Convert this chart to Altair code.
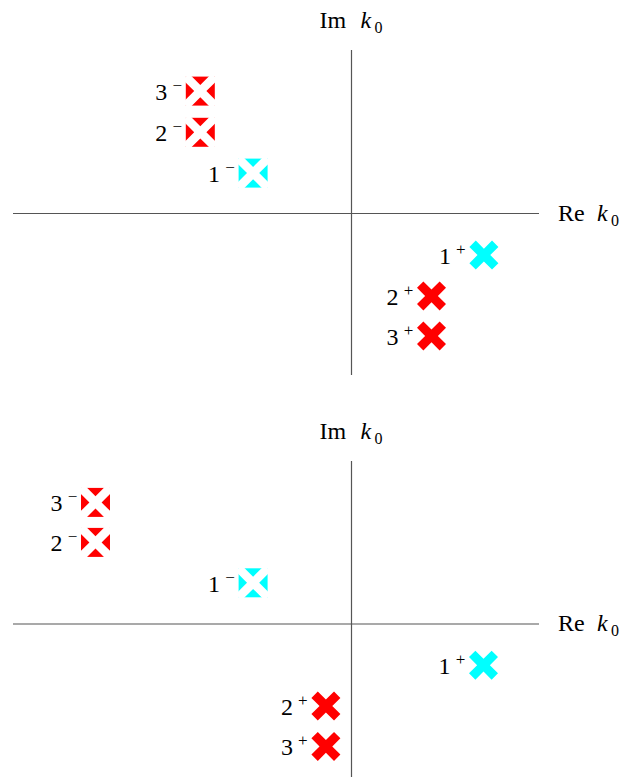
import altair as alt
import pandas as pd

# Poles in the complex k0 plane (units: Re k0, Im k0)
pole_num = ["1", "2", "3", "1", "2", "3"]
pole_sign = ["+", "+", "+", "−", "−", "−"]
pole_color = ["#00FFFF", "#FF0000", "#FF0000", "#00FFFF", "#FF0000", "#FF0000"]

top_re = [3.31, 2.0, 2.0, -2.46, -3.78, -3.78]
top_im = [-1.04, -2.06, -3.06, 1.01, 2.03, 3.06]
bot_re = [3.3, -0.64, -0.64, -2.46, -6.4, -6.4]
bot_im = [-1.03, -2.05, -3.06, 1.03, 2.04, 3.04]

# Plot ranges and axis-line extents
x_domain = [-8.5875, 6.7625]
top_y_domain = [-4.6625, 5.0875]
bot_y_domain = [-3.825, 5.6]
h_axis = [-8.4625, 4.6875]
top_v_axis = [-4.0375, 4.0875]
bot_v_axis = [-3.825, 4.075]

FONT = "Liberation Serif"
X_SHAPE = "M0.44,0L1,0.56L0.56,1L0,0.44L-0.56,1L-1,0.56L-0.44,0L-1,-0.56L-0.56,-1L0,-0.44L0.56,-1L1,-0.56Z"
WHITE_X = "M0.42,0L1.21,0.79L0.79,1.21L0,0.42L-0.79,1.21L-1.21,0.79L-0.42,0L-1.21,-0.79L-0.79,-1.21L0,-0.42L0.79,-1.21L1.21,-0.79Z"


def panel(re, im, ydom, vaxis, height):
    xs = alt.Scale(domain=x_domain, nice=False, zero=False)
    ys = alt.Scale(domain=ydom, nice=False, zero=False)
    df = pd.DataFrame({"re": re, "im": im, "num": pole_num,
                       "sign": pole_sign, "color": pole_color})
    base = alt.Chart(df).encode(
        x=alt.X("re:Q", scale=xs, axis=None),
        y=alt.Y("im:Q", scale=ys, axis=None),
    )
    axes_df = pd.DataFrame({"x1": [h_axis[0], 0], "x2": [h_axis[1], 0],
                            "y1": [0, vaxis[0]], "y2": [0, vaxis[1]]})
    rules = alt.Chart(axes_df).mark_rule(color="#555555", strokeWidth=1.2).encode(
        x=alt.X("x1:Q", scale=xs, axis=None), x2="x2:Q",
        y=alt.Y("y1:Q", scale=ys, axis=None), y2="y2:Q",
    )
    minus = base.transform_filter(alt.datum.sign == "−")
    plus = base.transform_filter(alt.datum.sign == "+")
    squares = minus.mark_point(shape="square", filled=True, size=841, opacity=1).encode(
        color=alt.Color("color:N", scale=None))
    white_x = minus.mark_point(shape=WHITE_X, filled=True, size=841, color="white", opacity=1)
    crosses = plus.mark_point(shape=X_SHAPE, filled=True, size=841, opacity=1).encode(
        color=alt.Color("color:N", scale=None))
    nums = base.mark_text(align="right", baseline="alphabetic", dx=-33, dy=9,
                          font=FONT, fontSize=24, color="black").encode(text="num:N")
    sups = base.mark_text(align="center", baseline="middle", dx=-23, dy=-5,
                          font=FONT, fontSize=17, color="black").encode(text="sign:N")

    def txt(x, y, s, dx, dy, size=24, style="normal", align="left"):
        d = pd.DataFrame({"x": [x], "y": [y], "t": [s]})
        return alt.Chart(d).mark_text(align=align, baseline="alphabetic", dx=dx, dy=dy,
                                      font=FONT, fontSize=size, fontStyle=style,
                                      color="black").encode(
            x=alt.X("x:Q", scale=xs, axis=None),
            y=alt.Y("y:Q", scale=ys, axis=None),
            text="t:N",
        )

    labels = [
        txt(h_axis[1], 0, "Re", 19, 7),
        txt(h_axis[1], 0, "k", 58, 7, style="italic"),
        txt(h_axis[1], 0, "0", 72, 12, size=16),
        txt(0, vaxis[1], "Im", -32, -22),
        txt(0, vaxis[1], "k", 9, -22, style="italic"),
        txt(0, vaxis[1], "0", 23, -17, size=16),
    ]
    return alt.layer(rules, squares, white_x, crosses, nums, sups, *labels).properties(
        width=614, height=height)


top = panel(top_re, top_im, top_y_domain, top_v_axis, 390)
bottom = panel(bot_re, bot_im, bot_y_domain, bot_v_axis, 377)

chart = alt.vconcat(top, bottom, spacing=0).properties(padding=0).configure_view(stroke=None)
chart.save("out.html", embed_options={"renderer": "svg", "actions": False})
